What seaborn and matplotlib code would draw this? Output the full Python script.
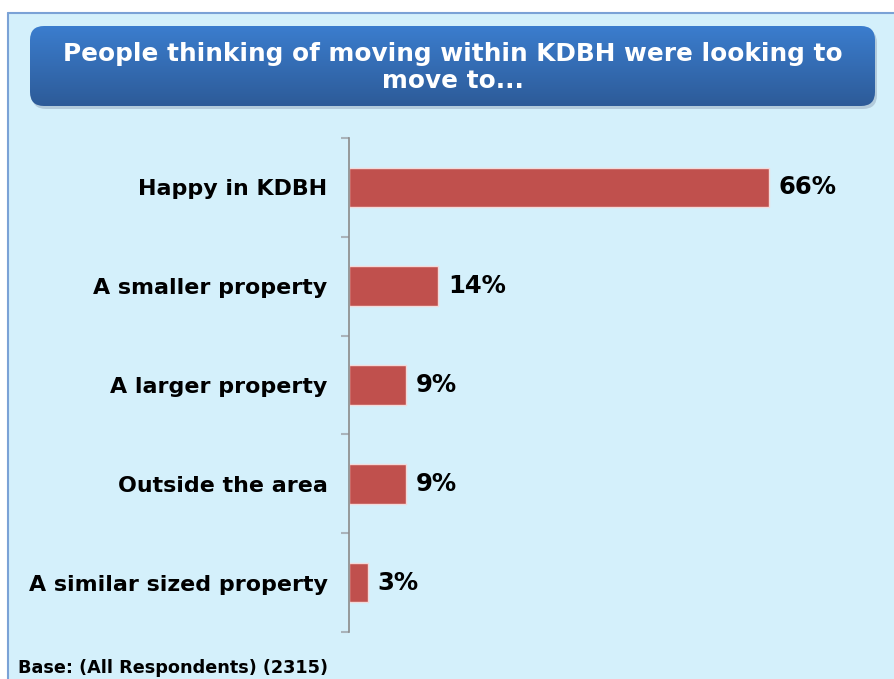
import numpy as np
import pandas as pd
import matplotlib
matplotlib.use("Agg")
import matplotlib.pyplot as plt
import seaborn as sns
from matplotlib.patches import Rectangle, FancyBboxPatch
from matplotlib.lines import Line2D
from matplotlib.colors import LinearSegmentedColormap

categories = ["Happy in KDBH", "A smaller property", "A larger property",
              "Outside the area", "A similar sized property"]
values = [66, 14, 9, 9, 3]
value_labels = ["66%", "14%", "9%", "9%", "3%"]
title = "People thinking of moving within KDBH were looking to\nmove to..."
footnote = "Base: (All Respondents) (2315)"

sns.set_theme(style="white")
plt.rcParams['font.family'] = ['DejaVu Sans']

W, H = 894, 679
fig = plt.figure(figsize=(W / 100, H / 100), dpi=100)
fig.patch.set_facecolor("white")

def fx(x):
    return x / W

def fy(y):
    return 1 - y / H

# light blue panel
fig.patches.append(Rectangle((fx(8), 0), 1 - fx(8), fy(13), transform=fig.transFigure,
                             facecolor="#D4F0FB", edgecolor="none", zorder=0))
fig.lines.append(Line2D([fx(8), fx(8)], [0, fy(13)], transform=fig.transFigure,
                        color="#7BA2D6", lw=1.5, zorder=1))
fig.lines.append(Line2D([fx(8), 1], [fy(13), fy(13)], transform=fig.transFigure,
                        color="#7BA2D6", lw=1.5, zorder=1))

# title box with gradient and shadow
bx0, bx1, by0, by1 = 30, 875, 26, 106
sax = fig.add_axes([fx(bx0 + 2), fy(by1 + 3), fx(bx1 - bx0), (by1 - by0) / H], zorder=1)
sax.set_axis_off()
sax.add_patch(FancyBboxPatch((0, 0), 1, 1,
                             boxstyle="round,pad=0,rounding_size=%f" % (14 / (bx1 - bx0)),
                             transform=sax.transAxes, facecolor="#9DB3C6",
                             edgecolor="none", alpha=0.6,
                             mutation_aspect=(bx1 - bx0) / (by1 - by0)))
tax = fig.add_axes([fx(bx0), fy(by1), fx(bx1 - bx0), (by1 - by0) / H], zorder=2)
tax.set_axis_off()
grad = np.linspace(0, 1, 256).reshape(-1, 1)
cmap = LinearSegmentedColormap.from_list("tb", ["#3B7DCE", "#2D5B98"])
im = tax.imshow(grad, aspect="auto", cmap=cmap, extent=[0, 1, 0, 1], origin="upper")
tax.set_xlim(0, 1)
tax.set_ylim(0, 1)
clip = FancyBboxPatch((0, 0), 1, 1,
                      boxstyle="round,pad=0,rounding_size=%f" % (14 / (bx1 - bx0)),
                      transform=tax.transAxes, facecolor="none", edgecolor="none",
                      mutation_aspect=(bx1 - bx0) / (by1 - by0))
tax.add_patch(clip)
im.set_clip_path(clip)
tax.text(0.5, 0.48, title, ha="center", va="center", color="white",
         fontsize=17.8, fontweight="bold", linespacing=1.12, transform=tax.transAxes)

# main bar axes
ax_left, ax_right, ax_top, ax_bottom = 349, 858, 138, 632
ax = fig.add_axes([fx(ax_left), fy(ax_bottom), fx(ax_right - ax_left),
                   (ax_bottom - ax_top) / H], zorder=3)
ax.patch.set_alpha(0)
df = pd.DataFrame({"category": categories, "value": values})
sns.barplot(data=df, x="value", y="category", orient="h", color="#C0504D",
            saturation=1, width=0.4, edgecolor="#F3DADA", linewidth=1.0, ax=ax)
ax.set_xlim(0, 80)
ax.set_ylim(len(categories) - 0.5, -0.5)
ax.set_xlabel("")
ax.set_ylabel("")
ax.set_xticks([])
for s in ["top", "right", "bottom"]:
    ax.spines[s].set_visible(False)
ax.spines["left"].set_color("#8A8A8A")
ax.spines["left"].set_linewidth(1.2)
ax.tick_params(axis="y", which="major", length=0, pad=15.5, labelsize=15.9)
for lab in ax.get_yticklabels():
    lab.set_fontweight("bold")
    lab.set_color("black")
ax.set_yticks(np.arange(-0.5, len(categories), 1.0), minor=True)
ax.tick_params(axis="y", which="minor", length=6, width=1.5, color="#A9B3BA", left=True)

for i, (v, lab) in enumerate(zip(values, value_labels)):
    ax.annotate(lab, xy=(v, i), xytext=(7, 0), textcoords="offset points",
                ha="left", va="center", fontsize=17.5, fontweight="bold", color="black")

fig.text(fx(18), fy(668), footnote, ha="left", va="center", fontsize=12.7,
         fontweight="bold", color="black")

fig.savefig("out.png", dpi=100)
